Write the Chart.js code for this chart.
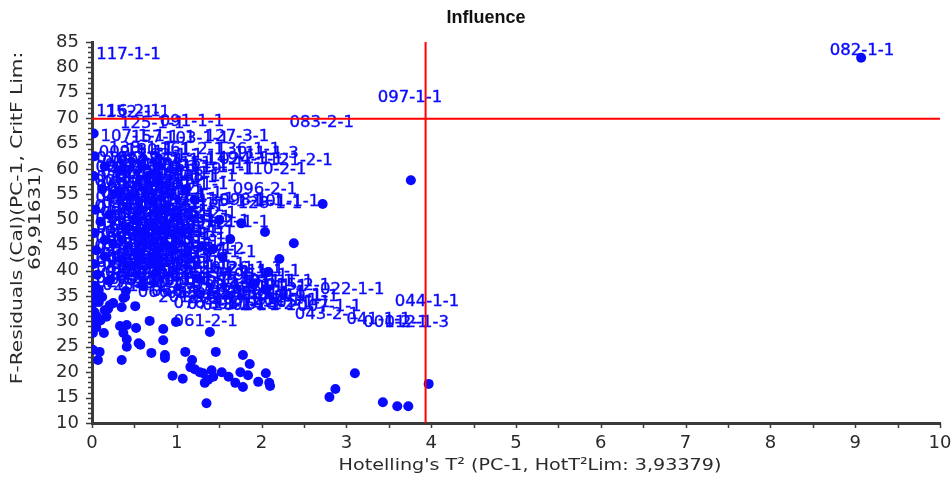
<!DOCTYPE html>
<html>
<head>
<meta charset="utf-8">
<script src="https://cdn.jsdelivr.net/npm/chart.js@4.4.1/dist/chart.umd.min.js"></script>
<style>
  html, body { margin: 0; padding: 0; background: #fff; }
  #wrap { width: 952px; height: 481px; position: relative; }
</style>
</head>
<body>
<div id="wrap"><canvas id="chart"></canvas></div>
<script>
// Influence plot: Hotelling's T² against F-residuals for PC-1.

// Critical limits
const hotT2Limit = 3.93379;
const fResLimit = 69.91631;

// Axis tick labels
const xTickLabels = ['0', '1', '2', '3', '4', '5', '6', '7', '8', '9', '10'];
const yTickLabels = ['10', '15', '20', '25', '30', '35', '40', '45', '50', '55', '60', '65', '70', '75', '80', '85'];

// Named samples (shown by their id)
const sampleIds = [
  '117-1-1', '116-2-1', '152-1-1', '125-1-1', '091-1-1', '083-2-1', '097-1-1', '082-1-1',
  '107-1-1', '157-1-1', '103-1-1', '127-3-1',
  '138-1-1', '180-1-1', '161-2-1', '136-1-1', '111-1-3',
  '018-2-1', '084-1-1', '149-2-1', '024-1-1', '121-2-1',
  '081-1-1', '064-1-1', '151-1-1', '119-1-1', '110-2-1', '143-1-1',
  '070-1-1', '131-1-1', '114-2-1', '155-1-1',
  '060-1-1', '077-1-1', '120-1-1', '095-1-1', '096-2-1',
  '040-1-1', '093-1-1', '141-1-1', '135-1-1', '098-1-1', '128-1-1', '101-1-1', '153-1-1',
  '059-1-1', '088-1-1', '112-1-1', '145-2-1', '132-2-1',
  '050-1-1', '071-1-1', '099-1-1', '137-1-1', '091-2-1', '121-1-1', '106-1-1',
  '033-1-1', '079-1-1', '108-2-1', '144-1-1', '113-1-1',
  '038-1-1', '069-1-1', '090-1-1', '147-1-1', '129-1-1',
  '029-1-1', '074-1-1', '118-1-1', '115-1-1', '159-1-2', '139-1-1',
  '047-1-1', '063-1-1', '087-1-1', '104-1-1', '146-1-1',
  '052-1-1', '086-1-1', '123-1-1', '102-1-1', '120-2-1', '126-1-1', '111-1-1', '058-1-1',
  '036-2-1', '057-1-1', '092-1-1', '134-1-1', '030-1-1', '065-1-1', '072-1-1', '140-1-1', '011-1-1', '015-2-1',
  '066-1-1', '068-1-1', '085-1-1', '054-1-1', '062-1-1', '039-1-1', '045-1-1', '027-1-1', '010-1-1', '022-1-1', '019-1-1',
  '076-1-1', '078-1-1', '028-2-1', '031-1-1', '014-1-1', '025-2-1', '044-1-1', '007-1-1', '043-2-1',
  '041-1-1', '001-2-1', '012-1-3', '061-2-1',
  '005-1-1', '049-1-1', '017-1-1', '073-1-1', '021-1-1', '080-1-1', '150-1-1',
  '026-1-1', '094-1-1', '124-1-1', '032-1-1', '100-1-1', '154-1-1',
  '035-1-1', '105-1-1', '142-1-1', '117-2-1', '042-1-1', '109-1-1', '148-1-1', '122-1-1',
  '046-1-1', '075-1-1', '133-1-1', '156-1-1', '048-1-1', '083-1-1', '089-1-1', '158-1-1',
  '051-1-1', '067-1-1', '097-2-1', '160-1-1', '053-1-1', '055-1-1', '056-1-1',
  '034-1-1', '037-1-1', '020-1-1', '023-1-1', '016-1-1',
  '009-1-1', '163-1-1', '002-1-1', '164-1-1', '003-1-1', '165-1-1', '166-1-1',
  '004-1-1', '167-1-1', '168-1-1', '006-1-1', '169-1-1', '170-1-1',
  '008-1-1', '171-1-1', '172-1-1', '013-1-1', '173-1-1', '174-1-1',
  '015-1-1', '175-1-1', '176-1-1', '018-1-1', '177-1-1', '178-1-1',
  '019-2-1', '179-1-1', '181-1-1', '020-2-1', '182-1-1', '183-1-1',
  '021-2-1', '184-2-1', '185-1-1', '023-2-1', '186-1-1', '187-1-1',
  '024-2-1', '188-1-1', '189-1-1', '025-1-1', '190-1-1', '191-1-1',
  '026-2-1', '192-1-1', '193-1-1', '194-1-1', '195-1-1',
  '027-2-1', '196-1-1', '197-1-1', '198-1-1', '199-1-1', '200-1-1',
  '201-1-1', '202-1-1', '203-1-1', '204-1-1', '205-1-1'
];
const sampleT2 = [
  0.05, 0.05, 0.16, 0.33, 0.80, 2.33, 3.37, 8.70,
  0.10, 0.46, 0.86, 1.33,
  0.20, 0.40, 0.80, 1.46, 1.68,
  0.05, 0.28, 1.35, 1.50, 2.08,
  0.04, 0.25, 1.04, 1.16, 1.77, 0.62,
  0.05, 0.22, 0.48, 0.72,
  0.05, 0.18, 0.36, 0.55, 1.66,
  0.04, 0.20, 0.42, 1.25, 1.50, 1.72, 1.92, 0.70,
  0.05, 0.22, 0.40, 0.62, 0.95,
  0.04, 0.18, 0.35, 0.55, 1.10, 1.33, 0.80,
  0.05, 0.20, 0.38, 0.58, 0.82,
  0.04, 0.17, 0.36, 0.56, 0.75,
  0.05, 0.22, 0.40, 0.90, 1.04, 0.62,
  0.04, 0.18, 0.36, 0.55, 0.75,
  0.05, 0.22, 0.45, 0.90, 1.15, 1.48, 1.70, 0.66,
  0.04, 0.20, 0.40, 0.62, 0.85, 1.10, 1.35, 1.62, 1.85, 2.05,
  0.54, 0.70, 0.88, 1.05, 1.22, 1.40, 1.58, 1.76, 1.95, 2.69, 2.15,
  0.96, 1.12, 1.30, 1.48, 1.65, 1.82, 3.57, 2.42, 2.39,
  3.00, 3.20, 3.45, 0.96,
  0.12, 0.52, 0.10, 0.35, 0.12, 0.30, 0.62,
  0.10, 0.32, 0.60, 0.12, 0.30, 0.52,
  0.10, 0.28, 0.48, 0.70, 0.12, 0.30, 0.50, 0.68,
  0.10, 0.28, 0.46, 0.66, 0.12, 0.30, 0.48, 0.68,
  0.10, 0.28, 0.46, 0.66, 0.12, 0.30, 0.50,
  0.10, 0.30, 0.52, 0.12, 0.30,
  0.08, 0.55, 0.30, 0.70, 0.15, 0.42, 0.85,
  0.28, 0.55, 0.95, 0.03, 0.42, 0.85,
  0.20, 0.45, 0.78, 0.12, 0.60, 0.92,
  0.03, 0.35, 0.80, 0.25, 0.62, 0.88,
  0.05, 0.42, 0.75, 0.15, 0.50, 0.92,
  0.25, 0.45, 0.82, 0.03, 0.55, 1.18,
  0.25, 0.44, 0.88, 0.05, 0.62, 1.05,
  0.15, 0.40, 0.78, 1.30, 1.55,
  0.05, 0.50, 0.98, 1.20, 1.50, 1.78,
  0.78, 1.15, 1.42, 1.90, 2.05
];
const sampleF = [
  82.4, 71.2, 71.0, 69.0, 69.3, 69.2, 74.0, 83.2,
  66.4, 66.2, 66.0, 66.3,
  64.0, 63.6, 63.8, 63.7, 63.0,
  62.0, 61.8, 62.0, 61.8, 61.6,
  60.2, 60.0, 61.0, 59.8, 59.8, 59.0,
  58.3, 58.0, 57.8, 58.2,
  56.5, 56.2, 55.8, 56.0, 55.9,
  54.3, 54.0, 53.8, 53.5, 53.7, 53.2, 53.5, 53.0,
  52.2, 51.8, 52.0, 51.5, 51.2,
  50.3, 50.0, 49.8, 50.2, 49.6, 49.4, 49.0,
  48.2, 47.8, 48.0, 47.5, 47.0,
  46.3, 46.0, 45.8, 46.2, 45.5,
  44.3, 44.0, 43.8, 44.2, 44.1, 44.0,
  42.2, 42.0, 41.8, 42.3, 41.6,
  40.3, 40.0, 40.1, 40.5, 40.4, 40.3, 39.8, 39.6,
  38.5, 38.3, 38.0, 38.2, 38.0, 38.2, 37.6, 37.8, 37.9, 37.0,
  35.6, 35.8, 35.5, 35.7, 35.3, 35.6, 35.2, 35.4, 35.0, 36.2, 34.8,
  33.4, 33.2, 33.0, 33.3, 33.0, 33.2, 33.8, 32.8, 31.3,
  30.3, 29.8, 29.8, 29.9,
  61.2, 60.8, 59.2, 59.0, 57.2, 57.0, 56.8,
  55.2, 55.0, 54.8, 53.1, 52.9, 53.2,
  51.1, 50.9, 51.2, 50.6, 49.2, 48.9, 49.1, 48.5,
  47.1, 46.9, 47.2, 46.8, 45.1, 44.9, 45.2, 45.0,
  43.1, 42.9, 43.2, 42.8, 41.1, 40.9, 41.2,
  39.2, 39.0, 39.3, 37.0, 36.8,
  63.2, 62.6, 61.4, 61.6, 60.6, 60.4, 60.2,
  58.8, 58.6, 58.5, 57.4, 57.3, 57.0,
  55.4, 55.5, 55.2, 54.6, 54.3, 54.0,
  52.6, 52.7, 52.5, 50.6, 50.8, 50.4,
  48.8, 48.6, 48.2, 47.5, 47.9, 47.4,
  45.6, 45.5, 45.8, 44.7, 44.6, 43.6,
  42.6, 42.5, 42.7, 41.6, 41.4, 41.2,
  39.6, 39.5, 39.2, 39.4, 39.0,
  37.6, 37.4, 37.2, 36.9, 36.6, 36.8,
  34.6, 34.4, 34.2, 34.1, 33.6
];

// Remaining samples (plotted as markers)
const pointT2 = [
  2.72, 2.04, 1.63, 2.38, 1.43, 1.54, 2.21, 2.08, 1.07, 1.21,
  3.76, 9.07, 0.02,
  0.02, 0.05, 0.01, 0.08, 0.12, 0.21, 0.15, 0.03, 0.06, 0.17, 0.10, 0.02, 0.01, 0.14, 0.01, 0.09, 0.07, 0.05, 0.19, 0.25,
  0.37, 0.35, 0.39, 0.51, 0.33, 0.41, 0.37, 0.41, 0.41, 0.35, 0.52, 0.55, 0.57, 0.68, 0.70, 0.84, 0.84, 0.86, 0.86, 0.95,
  0.99, 1.07, 1.10, 1.18, 1.16, 1.21, 1.27, 1.31, 1.33, 1.35, 1.37, 1.39, 1.41, 1.43, 1.46, 1.53, 1.61, 1.69, 1.75, 1.78,
  1.78, 1.84, 1.86, 1.96, 2.05, 2.09, 2.10, 2.80, 2.87, 3.10, 3.43, 3.60, 3.73, 3.97,
  0.03, 0.02, 0.04, 0.03, 0.05, 0.02, 0.06, 0.03, 0.08, 0.30, 0.50, 0.25, 0.62, 0.72, 0.45, 0.90, 1.00, 0.80, 1.30, 1.50,
  1.76, 1.92, 2.05, 1.25, 0.60,
  0.15, 0.35, 0.12, 0.45, 0.20, 0.40, 0.15, 0.55, 0.35, 0.20, 0.75, 0.85, 0.65, 1.10, 0.10, 0.40, 0.15
];
const pointF = [
  53.1, 47.6, 46.2, 45.4, 44.3, 42.7, 42.3, 39.7, 47.8, 53.9,
  57.8, 81.9, 67.0,
  35.5, 34.6, 33.5, 33.8, 34.8, 33.2, 32.2, 31.8, 30.9, 30.9, 30.2, 29.8, 27.7, 27.7, 24.4, 24.0, 22.4, 28.8, 32.5, 33.6,
  34.6, 32.8, 34.8, 33.0, 29.1, 29.3, 27.7, 26.5, 25.0, 22.4, 28.7, 25.7, 25.4, 30.1, 23.8, 28.5, 26.3, 23.4, 22.8, 19.3,
  29.9, 18.7, 24.0, 22.4, 21.0, 20.6, 20.0, 19.8, 17.9, 13.9, 18.5, 27.9, 20.4, 19.1, 24.0, 20.0, 19.1, 17.9, 20.0, 23.4,
  17.1, 19.4, 21.6, 18.1, 19.8, 17.9, 17.3, 15.1, 16.7, 19.8, 14.1, 13.3, 13.3, 17.7,
  62.5, 58.6, 52.0, 47.4, 44.0, 41.3, 39.2, 37.0, 36.2, 55.2, 50.1, 45.3, 47.2, 53.6, 41.0, 44.8, 50.5, 57.0, 44.8, 49.9,
  49.3, 37.5, 36.2, 38.4, 37.0,
  60.5, 59.7, 56.0, 54.5, 51.0, 48.2, 46.0, 43.5, 42.2, 38.0, 39.5, 52.0, 58.5, 56.0, 49.6, 36.0, 42.8
];

const BLUE = '#0a0aff';
const AXIS = '#3a3a3a';
const TEXT = '#2a2a2a';

// Sample id text placed at each named sample's coordinates
const sampleLabels = {
  id: 'sampleLabels',
  afterDatasetsDraw(chart) {
    const { ctx, chartArea, scales } = chart;
    ctx.save();
    ctx.beginPath();
    ctx.rect(chartArea.left, chartArea.top, chartArea.width, chartArea.height);
    ctx.clip();
    ctx.font = '16.5px "DejaVu Sans"';
    ctx.fillStyle = BLUE;
    ctx.strokeStyle = BLUE;
    ctx.lineWidth = 0.4;
    ctx.textAlign = 'left';
    ctx.textBaseline = 'middle';
    sampleIds.forEach((id, i) => {
      const px = scales.x.getPixelForValue(sampleT2[i]);
      const py = scales.y.getPixelForValue(sampleF[i]);
      ctx.fillText(id, px, py);
      ctx.strokeText(id, px, py);
    });
    ctx.restore();
  }
};

// Red lines at the two critical limits
const limitLines = {
  id: 'limitLines',
  afterDatasetsDraw(chart) {
    const { ctx, chartArea, scales } = chart;
    const px = scales.x.getPixelForValue(hotT2Limit);
    const py = scales.y.getPixelForValue(fResLimit);
    ctx.save();
    ctx.strokeStyle = '#ff0000';
    ctx.lineWidth = 2;
    ctx.beginPath();
    ctx.moveTo(chartArea.left, py);
    ctx.lineTo(chartArea.right, py);
    ctx.moveTo(px, chartArea.top);
    ctx.lineTo(px, chartArea.bottom);
    ctx.stroke();
    ctx.restore();
  }
};

// Outside tick marks, the chart title and both axis titles
const decorations = {
  id: 'decorations',
  afterDraw(chart) {
    const { ctx, chartArea, scales } = chart;
    const { x, y } = scales;
    ctx.save();
    ctx.strokeStyle = AXIS;
    ctx.lineWidth = 1.5;
    ctx.beginPath();
    for (let v = 0; v <= 10.001; v += 0.5) {
      const p = Math.round(x.getPixelForValue(v)) + 0.5;
      ctx.moveTo(p, chartArea.bottom);
      ctx.lineTo(p, chartArea.bottom + 5);
    }
    for (let v = 10; v <= 85; v += 1) {
      const p = Math.round(y.getPixelForValue(v)) + 0.5;
      const len = v % 5 === 0 ? 6 : 4;
      ctx.moveTo(chartArea.left, p);
      ctx.lineTo(chartArea.left - len, p);
    }
    ctx.stroke();

    ctx.textAlign = 'center';
    ctx.textBaseline = 'middle';

    ctx.fillStyle = '#111';
    ctx.font = 'bold 18px "Liberation Sans"';
    ctx.fillText('Influence', 486, 18);

    ctx.fillStyle = TEXT;
    ctx.font = '16.5px "DejaVu Sans"';

    // x-axis title, slightly widened
    ctx.save();
    ctx.translate(530, 466);
    ctx.scale(1.16, 1);
    ctx.fillText("Hotelling's T² (PC-1, HotT²Lim: 3,93379)", 0, 0);
    ctx.restore();

    // two-line y-axis title, slightly widened along the text
    ctx.save();
    ctx.translate(0, 218);
    ctx.rotate(-Math.PI / 2);
    ctx.scale(1.22, 1);
    ctx.fillText('F-Residuals (Cal)(PC-1, CritF Lim:', 0, 18);
    ctx.fillText('69,91631)', 0, 36);
    ctx.restore();

    ctx.restore();
  }
};

new Chart(document.getElementById('chart'), {
  type: 'scatter',
  data: {
    datasets: [{
      label: 'Samples',
      data: pointT2.map((v, i) => ({ x: v, y: pointF[i] })),
      backgroundColor: BLUE,
      borderWidth: 0,
      pointRadius: 5,
      pointHoverRadius: 5
    }]
  },
  options: {
    responsive: true,
    maintainAspectRatio: false,
    animation: false,
    layout: { padding: { top: 42, right: 12, bottom: 0, left: 0 } },
    plugins: {
      legend: { display: false },
      tooltip: { enabled: false },
      title: { display: false }
    },
    scales: {
      x: {
        type: 'linear',
        min: 0,
        max: 10,
        afterFit: (s) => { s.height = 58; s.paddingLeft = 0; s.paddingRight = 0; },
        afterBuildTicks: (s) => { s.ticks = xTickLabels.map(t => ({ value: Number(t) })); },
        grid: { display: false, drawTicks: false },
        border: { display: true, color: AXIS, width: 3 },
        ticks: {
          autoSkip: false,
          maxRotation: 0,
          padding: 10,
          color: TEXT,
          font: { family: 'DejaVu Sans', size: 18 },
          callback: (v) => String(v)
        }
      },
      y: {
        type: 'linear',
        min: 10,
        max: 85,
        afterFit: (s) => { s.width = 92; s.paddingTop = 0; s.paddingBottom = 0; },
        afterBuildTicks: (s) => { s.ticks = yTickLabels.map(t => ({ value: Number(t) })); },
        grid: { display: false, drawTicks: false },
        border: { display: true, color: AXIS, width: 3 },
        ticks: {
          autoSkip: false,
          padding: 13,
          color: TEXT,
          font: { family: 'DejaVu Sans', size: 18 },
          callback: (v) => String(v)
        }
      }
    }
  },
  plugins: [sampleLabels, limitLines, decorations]
});
</script>
</body>
</html>
